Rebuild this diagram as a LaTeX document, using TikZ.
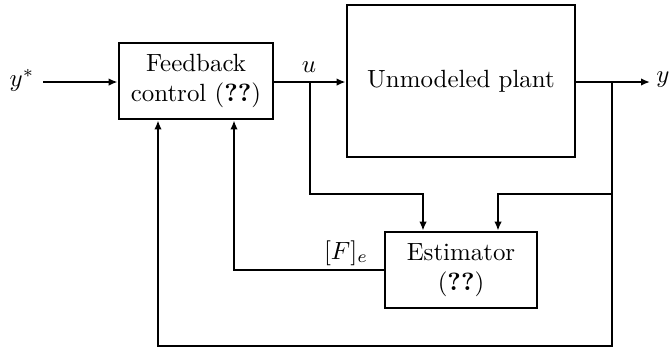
\documentclass[tikz,border=0pt]{standalone}
\usetikzlibrary{arrows.meta}
\begin{document}
\begin{tikzpicture}[x=0.4bp,y=-0.4bp,
  blk/.style={draw,line width=1.1pt,rectangle,inner sep=0pt,align=center,font=\normalsize},
  conn/.style={line width=1.1pt},
  arr/.style={conn,-{Latex[length=3.6pt,width=3pt]}}]
\useasboundingbox (0,0) rectangle (669,347);
\node[blk,minimum width=61.6bp,minimum height=30.4bp] (fb) at (196,81) {Feedback\\control (\textbf{??})};
\node[blk,minimum width=91.2bp,minimum height=60.8bp] (plant) at (461,81) {Unmodeled plant};
\node[blk,minimum width=60.8bp,minimum height=30.4bp] (est) at (461,270) {Estimator\\(\textbf{??})};
\node (ystar) at (22,80) {$y^*$};
\node (yout) at (663,80) {$y$};
\node (ulab) at (309,67) {$u$};
\node (flab) at (346,253) {$[F]_e$};
\coordinate (ys) at (43,82);
\coordinate (ye) at (650,82);
\coordinate (ub) at (310,82);
\coordinate (yb) at (612,82);
\coordinate (ua) at (423,194);
\coordinate (ya) at (498,194);
\coordinate (fa) at (234,270);
\coordinate (la) at (612,346);
\coordinate (lb) at (158,346);
\draw[arr] (ys) -- (fb.west |- ys);
\draw[arr] (fb.east |- ub) -- (plant.west |- ub);
\draw[arr] (plant.east |- yb) -- (ye);
\draw[arr] (ub) |- (ua) -- (ua |- est.north);
\draw[arr] (yb) |- (ya) -- (ya |- est.north);
\draw[arr] (est.west |- fa) -- (fa) -- (fa |- fb.south);
\draw[arr] (yb) -- (la) -- (lb) -- (lb |- fb.south);
\end{tikzpicture}
\end{document}
